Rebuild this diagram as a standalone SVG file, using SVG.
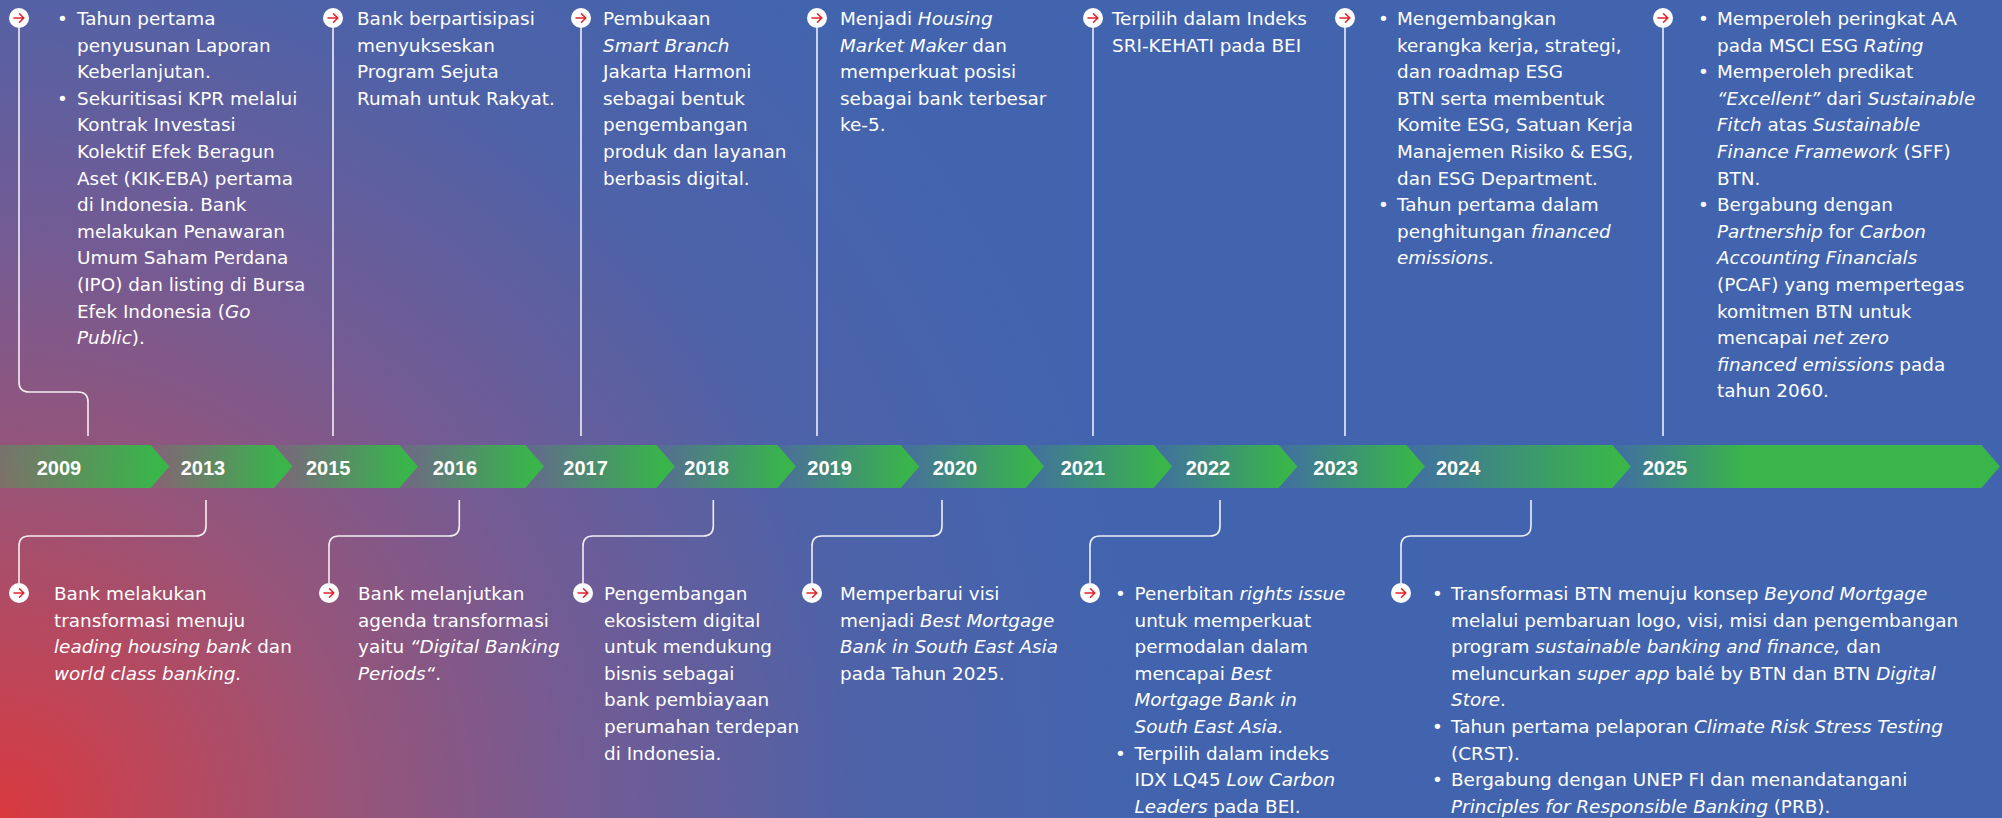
<svg xmlns="http://www.w3.org/2000/svg" width="2002" height="818" viewBox="0 0 2002 818">
<defs>
<radialGradient id="bg" cx="0" cy="818" r="1150" gradientUnits="userSpaceOnUse">
<stop offset="0" stop-color="#D9393E"/>
<stop offset="0.12" stop-color="#C04557"/>
<stop offset="0.3" stop-color="#985478"/>
<stop offset="0.5" stop-color="#745B93"/>
<stop offset="0.75" stop-color="#4E62A8"/>
<stop offset="1" stop-color="#4264AE"/>
</radialGradient>
<linearGradient id="seg" x1="0" y1="0" x2="1" y2="0">
<stop offset="0" stop-color="#39B54A" stop-opacity="0.12"/>
<stop offset="0.92" stop-color="#39B54A" stop-opacity="1"/>
</linearGradient>
<linearGradient id="seg0" x1="0" y1="0" x2="1" y2="0">
<stop offset="0" stop-color="#39B54A" stop-opacity="0.3"/>
<stop offset="0.92" stop-color="#39B54A" stop-opacity="1"/>
</linearGradient>
<linearGradient id="segL" x1="0" y1="0" x2="1" y2="0">
<stop offset="0" stop-color="#39B54A" stop-opacity="0.1"/>
<stop offset="0.34" stop-color="#39B54A" stop-opacity="1"/>
</linearGradient>
<g id="ic">
<circle cx="0" cy="0" r="10" fill="#fff"/>
<path d="M-5,0 H4.5 M0.5,-4.2 L4.8,0 L0.5,4.2" fill="none" stroke="#E3232C" stroke-width="1.6" stroke-linecap="round" stroke-linejoin="round"/>
</g>
</defs>
<style>
.t{font-family:"DejaVu Sans","Noto Sans",sans-serif;font-size:18.4px;fill:#fff}
.i{font-style:italic}
.yr{font-family:"Liberation Sans",Arial,sans-serif;font-weight:bold;font-size:20px;fill:#fff}
.ln{fill:none;stroke:#fff;stroke-width:1.6;stroke-opacity:0.9}
</style>
<rect x="0" y="0" width="2002" height="818" fill="url(#bg)"/>

<g id="band">
<path d="M0,445 H150.7 L169.3,466.5 L150.7,488 H0 Z" fill="url(#seg0)"/>
<path d="M150.7,445 H274 L292.7,466.5 L274,488 H150.7 L169.3,466.5 Z" fill="url(#seg)"/>
<path d="M274,445 H399.4 L418,466.5 L399.4,488 H274 L292.7,466.5 Z" fill="url(#seg)"/>
<path d="M399.4,445 H525.4 L544,466.5 L525.4,488 H399.4 L418,466.5 Z" fill="url(#seg)"/>
<path d="M525.4,445 H656.4 L675,466.5 L656.4,488 H525.4 L544,466.5 Z" fill="url(#seg)"/>
<path d="M656.4,445 H777.4 L796,466.5 L777.4,488 H656.4 L675,466.5 Z" fill="url(#seg)"/>
<path d="M777.4,445 H900.7 L919.3,466.5 L900.7,488 H777.4 L796,466.5 Z" fill="url(#seg)"/>
<path d="M900.7,445 H1025.7 L1044.3,466.5 L1025.7,488 H900.7 L919.3,466.5 Z" fill="url(#seg)"/>
<path d="M1025.7,445 H1153.7 L1172.3,466.5 L1153.7,488 H1025.7 L1044.3,466.5 Z" fill="url(#seg)"/>
<path d="M1153.7,445 H1278.7 L1297.3,466.5 L1278.7,488 H1153.7 L1172.3,466.5 Z" fill="url(#seg)"/>
<path d="M1278.7,445 H1406.4 L1425,466.5 L1406.4,488 H1278.7 L1297.3,466.5 Z" fill="url(#seg)"/>
<path d="M1406.4,445 H1612.4 L1631,466.5 L1612.4,488 H1406.4 L1425,466.5 Z" fill="url(#seg)"/>
<path d="M1612.4,445 H1981.4 L2000,466.5 L1981.4,488 H1612.4 L1631,466.5 Z" fill="url(#segL)"/>
<text class="yr" x="36.7" y="475">2009</text>
<text class="yr" x="180.7" y="475">2013</text>
<text class="yr" x="306" y="475">2015</text>
<text class="yr" x="432.7" y="475">2016</text>
<text class="yr" x="563.3" y="475">2017</text>
<text class="yr" x="684.3" y="475">2018</text>
<text class="yr" x="807.3" y="475">2019</text>
<text class="yr" x="932.7" y="475">2020</text>
<text class="yr" x="1060.7" y="475">2021</text>
<text class="yr" x="1185.7" y="475">2022</text>
<text class="yr" x="1313.3" y="475">2023</text>
<text class="yr" x="1436" y="475">2024</text>
<text class="yr" x="1642.7" y="475">2025</text>
</g>

<g id="connectors">
<path class="ln" d="M19,28 V382 Q19,392 29,392 H78 Q88,392 88,402 V436"/>
<path class="ln" d="M333,28 V436"/>
<path class="ln" d="M581,28 V436"/>
<path class="ln" d="M817,28 V436"/>
<path class="ln" d="M1093,28 V436"/>
<path class="ln" d="M1345,28 V436"/>
<path class="ln" d="M1663,28 V436"/>
<path class="ln" d="M206,500 V526 Q206,536 196,536 H29 Q19,536 19,546 V583"/>
<path class="ln" d="M459.3,500 V526 Q459.3,536 449.3,536 H339 Q329,536 329,546 V583"/>
<path class="ln" d="M713.3,500 V526 Q713.3,536 703.3,536 H593 Q583,536 583,546 V583"/>
<path class="ln" d="M942,500 V526 Q942,536 932,536 H822 Q812,536 812,546 V583"/>
<path class="ln" d="M1220,500 V526 Q1220,536 1210,536 H1100 Q1090,536 1090,546 V583"/>
<path class="ln" d="M1531,500 V526 Q1531,536 1521,536 H1411 Q1401,536 1401,546 V583"/>
</g>

<g id="n2009">
<use href="#ic" x="19" y="18"/>
<text class="t">
<tspan x="57" y="25">•</tspan><tspan x="77" y="25">Tahun pertama</tspan>
<tspan x="77" y="51.6">penyusunan Laporan</tspan>
<tspan x="77" y="78.2">Keberlanjutan.</tspan>
<tspan x="57" y="104.8">•</tspan><tspan x="77" y="104.8">Sekuritisasi KPR melalui</tspan>
<tspan x="77" y="131.4">Kontrak Investasi</tspan>
<tspan x="77" y="158">Kolektif Efek Beragun</tspan>
<tspan x="77" y="184.6">Aset (KIK-EBA) pertama</tspan>
<tspan x="77" y="211.2">di Indonesia. Bank</tspan>
<tspan x="77" y="237.8">melakukan Penawaran</tspan>
<tspan x="77" y="264.4">Umum Saham Perdana</tspan>
<tspan x="77" y="291">(IPO) dan listing di Bursa</tspan>
<tspan x="77" y="317.6">Efek Indonesia (<tspan class="i">Go</tspan></tspan>
<tspan x="77" y="344.2"><tspan class="i">Public</tspan>).</tspan>
</text>
</g>

<g id="n2015">
<use href="#ic" x="333" y="18"/>
<text class="t">
<tspan x="357" y="25">Bank berpartisipasi</tspan>
<tspan x="357" y="51.6">menyukseskan</tspan>
<tspan x="357" y="78.2">Program Sejuta</tspan>
<tspan x="357" y="104.8">Rumah untuk Rakyat.</tspan>
</text>
</g>

<g id="n2017">
<use href="#ic" x="581" y="18"/>
<text class="t">
<tspan x="603" y="25">Pembukaan</tspan>
<tspan x="603" y="51.6" class="i">Smart Branch</tspan>
<tspan x="603" y="78.2">Jakarta Harmoni</tspan>
<tspan x="603" y="104.8">sebagai bentuk</tspan>
<tspan x="603" y="131.4">pengembangan</tspan>
<tspan x="603" y="158">produk dan layanan</tspan>
<tspan x="603" y="184.6">berbasis digital.</tspan>
</text>
</g>

<g id="n2019">
<use href="#ic" x="817" y="18"/>
<text class="t">
<tspan x="840" y="25">Menjadi <tspan class="i">Housing</tspan></tspan>
<tspan x="840" y="51.6"><tspan class="i">Market Maker</tspan> dan</tspan>
<tspan x="840" y="78.2">memperkuat posisi</tspan>
<tspan x="840" y="104.8">sebagai bank terbesar</tspan>
<tspan x="840" y="131.4">ke-5.</tspan>
</text>
</g>

<g id="n2021">
<use href="#ic" x="1093" y="18"/>
<text class="t">
<tspan x="1112" y="25">Terpilih dalam Indeks</tspan>
<tspan x="1112" y="51.6">SRI-KEHATI pada BEI</tspan>
</text>
</g>

<g id="n2023">
<use href="#ic" x="1345" y="18"/>
<text class="t">
<tspan x="1378" y="25">•</tspan><tspan x="1397" y="25">Mengembangkan</tspan>
<tspan x="1397" y="51.6">kerangka kerja, strategi,</tspan>
<tspan x="1397" y="78.2">dan roadmap ESG</tspan>
<tspan x="1397" y="104.8">BTN serta membentuk</tspan>
<tspan x="1397" y="131.4">Komite ESG, Satuan Kerja</tspan>
<tspan x="1397" y="158">Manajemen Risiko &amp; ESG,</tspan>
<tspan x="1397" y="184.6">dan ESG Department.</tspan>
<tspan x="1378" y="211.2">•</tspan><tspan x="1397" y="211.2">Tahun pertama dalam</tspan>
<tspan x="1397" y="237.8">penghitungan <tspan class="i">financed</tspan></tspan>
<tspan x="1397" y="264.4"><tspan class="i">emissions</tspan>.</tspan>
</text>
</g>

<g id="n2025">
<use href="#ic" x="1663" y="18"/>
<text class="t">
<tspan x="1698" y="25">•</tspan><tspan x="1717" y="25">Memperoleh peringkat AA</tspan>
<tspan x="1717" y="51.6">pada MSCI ESG <tspan class="i">Rating</tspan></tspan>
<tspan x="1698" y="78.2">•</tspan><tspan x="1717" y="78.2">Memperoleh predikat</tspan>
<tspan x="1717" y="104.8"><tspan class="i">“Excellent”</tspan> dari <tspan class="i">Sustainable</tspan></tspan>
<tspan x="1717" y="131.4"><tspan class="i">Fitch</tspan> atas <tspan class="i">Sustainable</tspan></tspan>
<tspan x="1717" y="158"><tspan class="i">Finance Framework</tspan> (SFF)</tspan>
<tspan x="1717" y="184.6">BTN.</tspan>
<tspan x="1698" y="211.2">•</tspan><tspan x="1717" y="211.2">Bergabung dengan</tspan>
<tspan x="1717" y="237.8"><tspan class="i">Partnership</tspan> for <tspan class="i">Carbon</tspan></tspan>
<tspan x="1717" y="264.4"><tspan class="i">Accounting Financials</tspan></tspan>
<tspan x="1717" y="291">(PCAF) yang mempertegas</tspan>
<tspan x="1717" y="317.6">komitmen BTN untuk</tspan>
<tspan x="1717" y="344.2">mencapai <tspan class="i">net zero</tspan></tspan>
<tspan x="1717" y="370.8"><tspan class="i">financed emissions</tspan> pada</tspan>
<tspan x="1717" y="397.4">tahun 2060.</tspan>
</text>
</g>

<g id="n2013">
<use href="#ic" x="19" y="593"/>
<text class="t">
<tspan x="54" y="600">Bank melakukan</tspan>
<tspan x="54" y="626.6">transformasi menuju</tspan>
<tspan x="54" y="653.2"><tspan class="i">leading housing bank</tspan> dan</tspan>
<tspan x="54" y="679.8" class="i">world class banking.</tspan>
</text>
</g>

<g id="n2016">
<use href="#ic" x="329" y="593"/>
<text class="t">
<tspan x="358" y="600">Bank melanjutkan</tspan>
<tspan x="358" y="626.6">agenda transformasi</tspan>
<tspan x="358" y="653.2">yaitu <tspan class="i">“Digital Banking</tspan></tspan>
<tspan x="358" y="679.8"><tspan class="i">Periods“</tspan>.</tspan>
</text>
</g>

<g id="n2018">
<use href="#ic" x="583" y="593"/>
<text class="t">
<tspan x="604" y="600">Pengembangan</tspan>
<tspan x="604" y="626.6">ekosistem digital</tspan>
<tspan x="604" y="653.2">untuk mendukung</tspan>
<tspan x="604" y="679.8">bisnis sebagai</tspan>
<tspan x="604" y="706.4">bank pembiayaan</tspan>
<tspan x="604" y="733">perumahan terdepan</tspan>
<tspan x="604" y="759.6">di Indonesia.</tspan>
</text>
</g>

<g id="n2020">
<use href="#ic" x="812" y="593"/>
<text class="t">
<tspan x="840" y="600">Memperbarui visi</tspan>
<tspan x="840" y="626.6">menjadi <tspan class="i">Best Mortgage</tspan></tspan>
<tspan x="840" y="653.2" class="i">Bank in South East Asia</tspan>
<tspan x="840" y="679.8">pada Tahun 2025.</tspan>
</text>
</g>

<g id="n2022">
<use href="#ic" x="1090" y="593"/>
<text class="t">
<tspan x="1115" y="600">•</tspan><tspan x="1134.5" y="600">Penerbitan <tspan class="i">rights issue</tspan></tspan>
<tspan x="1134.5" y="626.6">untuk memperkuat</tspan>
<tspan x="1134.5" y="653.2">permodalan dalam</tspan>
<tspan x="1134.5" y="679.8">mencapai <tspan class="i">Best</tspan></tspan>
<tspan x="1134.5" y="706.4" class="i">Mortgage Bank in</tspan>
<tspan x="1134.5" y="733" class="i">South East Asia.</tspan>
<tspan x="1115" y="759.6">•</tspan><tspan x="1134.5" y="759.6">Terpilih dalam indeks</tspan>
<tspan x="1134.5" y="786.2">IDX LQ45 <tspan class="i">Low Carbon</tspan></tspan>
<tspan x="1134.5" y="812.8"><tspan class="i">Leaders</tspan> pada BEI.</tspan>
</text>
</g>

<g id="n2024">
<use href="#ic" x="1401" y="593"/>
<text class="t">
<tspan x="1432" y="600">•</tspan><tspan x="1451" y="600">Transformasi BTN menuju konsep <tspan class="i">Beyond Mortgage</tspan></tspan>
<tspan x="1451" y="626.6">melalui pembaruan logo, visi, misi dan pengembangan</tspan>
<tspan x="1451" y="653.2">program <tspan class="i">sustainable banking and finance,</tspan> dan</tspan>
<tspan x="1451" y="679.8">meluncurkan <tspan class="i">super app</tspan> balé by BTN dan BTN <tspan class="i">Digital</tspan></tspan>
<tspan x="1451" y="706.4"><tspan class="i">Store</tspan>.</tspan>
<tspan x="1432" y="733">•</tspan><tspan x="1451" y="733">Tahun pertama pelaporan <tspan class="i">Climate Risk Stress Testing</tspan></tspan>
<tspan x="1451" y="759.6">(CRST).</tspan>
<tspan x="1432" y="786.2">•</tspan><tspan x="1451" y="786.2">Bergabung dengan UNEP FI dan menandatangani</tspan>
<tspan x="1451" y="812.8"><tspan class="i">Principles for Responsible Banking</tspan> (PRB).</tspan>
</text>
</g>
</svg>
